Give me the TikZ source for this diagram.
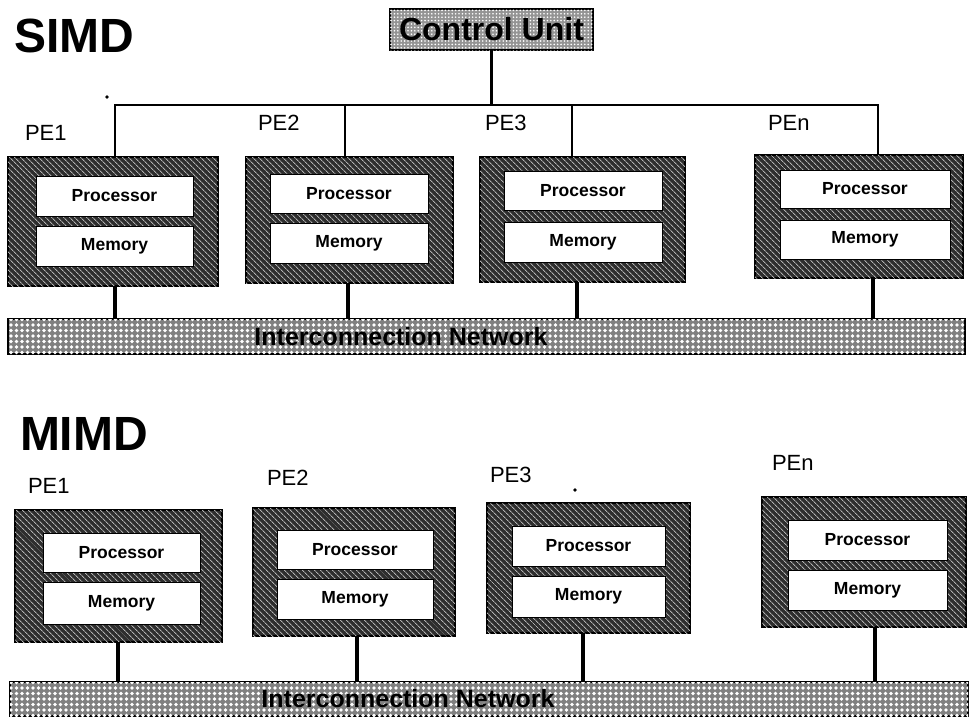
\documentclass[tikz,border=0pt]{standalone}
\usepackage{fontspec}
\setmainfont{Liberation Sans}
\usetikzlibrary{patterns.meta}

% rectangle node given by its corners: name, style, x1, y1, x2, y2, text
\newcommand\rectnode[7]{%
  \node[#2, minimum width={#5-#3}, minimum height={#6-#4}]
    (#1) at ({(#3+#5)/2},{(#4+#6)/2}) {#7};}

\tikzset{
  x=1pt, y=-1pt,
  every node/.style={inner sep=0pt, outer sep=0pt},
  hatchbox/.style={draw=black, line width=2.4pt, fill=black!82,
    postaction={pattern={Lines[angle=-45,distance=4pt,line width=1pt]},
                pattern color=white!70!black}},
  unitbox/.style={draw=black, line width=1pt, fill=white,
    font=\fontsize{17.5}{17.5}\selectfont\bfseries},
  netbox/.style={draw=black, line width=1.8pt, fill=black!50,
    postaction={pattern={Dots[radius=1.8pt,distance=5.5pt]},
                pattern color=white}},
  cubox/.style={draw=black, line width=1.6pt, fill=black!42,
    postaction={pattern={Dots[radius=0.9pt,distance=3.4pt]},
                pattern color=white}},
  title/.style={anchor=base west, font=\fontsize{48}{48}\selectfont\bfseries},
  pelabel/.style={anchor=base west, font=\fontsize{22}{22}\selectfont},
  nettext/.style={font=\fontsize{25}{25}\selectfont\bfseries},
  wire/.style={line width=2.4pt},
  link/.style={line width=3.6pt},
}

\begin{document}
\begin{tikzpicture}
\useasboundingbox (0,0) rectangle (972,721);

% ---------------- SIMD ----------------
\node[title] (tsimd) at (14,52) {SIMD};
\rectnode{cu}{cubox, font=\fontsize{32}{32}\selectfont\bfseries}{390}{9}{593}{50}{Control Unit};

\node[pelabel] (ls1) at (25,140) {PE1};
\node[pelabel] (ls2) at (258,130) {PE2};
\node[pelabel] (ls3) at (485,130) {PE3};
\node[pelabel] (ls4) at (768,130) {PEn};

\rectnode{s1}{hatchbox}{8}{157}{218}{286}{}
\rectnode{s1p}{unitbox}{36}{176}{193}{216}{Processor}
\rectnode{s1m}{unitbox}{36}{226}{193}{266}{Memory}

\rectnode{s2}{hatchbox}{246}{157}{453}{283}{}
\rectnode{s2p}{unitbox}{270}{174}{428}{213}{Processor}
\rectnode{s2m}{unitbox}{270}{223}{428}{263}{Memory}

\rectnode{s3}{hatchbox}{480}{157}{685}{282}{}
\rectnode{s3p}{unitbox}{504}{171}{662}{210}{Processor}
\rectnode{s3m}{unitbox}{504}{222}{662}{262}{Memory}

\rectnode{s4}{hatchbox}{755}{155}{963}{278}{}
\rectnode{s4p}{unitbox}{780}{170}{950}{208}{Processor}
\rectnode{s4m}{unitbox}{780}{220}{950}{259}{Memory}

\rectnode{snet}{netbox}{8}{319}{965}{354}{}
\node[nettext] (snett) at (401,337) {Interconnection Network};

% control bus
\coordinate (b1) at (115,105);
\coordinate (b2) at (345,105);
\coordinate (b3) at (572,105);
\coordinate (b4) at (878,105);
\draw[wire] (cu.south) -- (cu.south |- b1);
\draw[wire] (b1 |- s1.north) -- (b1) -- (b4) -- (b4 |- s4.north);
\draw[wire] (b2) -- (b2 |- s2.north);
\draw[wire] (b3) -- (b3 |- s3.north);

% links to the network
\coordinate (d1) at (115,0);
\coordinate (d2) at (348,0);
\coordinate (d3) at (577,0);
\coordinate (d4) at (873,0);
\draw[link] (d1 |- s1.south) -- (d1 |- snet.north);
\draw[link] (d2 |- s2.south) -- (d2 |- snet.north);
\draw[link] (d3 |- s3.south) -- (d3 |- snet.north);
\draw[link] (d4 |- s4.south) -- (d4 |- snet.north);

\fill (107,97) circle (1.8pt);

% ---------------- MIMD ----------------
\node[title] (tmimd) at (20,450) {MIMD};

\node[pelabel] (lm1) at (28,493) {PE1};
\node[pelabel] (lm2) at (267,485) {PE2};
\node[pelabel] (lm3) at (490,482) {PE3};
\node[pelabel] (lm4) at (772,470) {PEn};

\rectnode{m1}{hatchbox}{15}{510}{222}{642}{}
\rectnode{m1p}{unitbox}{43}{533}{200}{572}{Processor}
\rectnode{m1m}{unitbox}{43}{582}{200}{624}{Memory}

\rectnode{m2}{hatchbox}{253}{508}{455}{636}{}
\rectnode{m2p}{unitbox}{277}{530}{433}{569}{Processor}
\rectnode{m2m}{unitbox}{277}{579}{433}{619}{Memory}

\rectnode{m3}{hatchbox}{487}{503}{690}{633}{}
\rectnode{m3p}{unitbox}{512}{526}{665}{566}{Processor}
\rectnode{m3m}{unitbox}{512}{576}{665}{617}{Memory}

\rectnode{m4}{hatchbox}{762}{497}{966}{627}{}
\rectnode{m4p}{unitbox}{788}{520}{947}{560}{Processor}
\rectnode{m4m}{unitbox}{788}{570}{947}{610}{Memory}

\rectnode{mnet}{netbox}{10}{682}{968}{716}{}
\node[nettext] (mnett) at (408,699) {Interconnection Network};

\coordinate (e1) at (118,0);
\coordinate (e2) at (357,0);
\coordinate (e3) at (583,0);
\coordinate (e4) at (875,0);
\draw[link] (e1 |- m1.south) -- (e1 |- mnet.north);
\draw[link] (e2 |- m2.south) -- (e2 |- mnet.north);
\draw[link] (e3 |- m3.south) -- (e3 |- mnet.north);
\draw[link] (e4 |- m4.south) -- (e4 |- mnet.north);

\fill (575,490) circle (1.8pt);
\end{tikzpicture}
\end{document}
